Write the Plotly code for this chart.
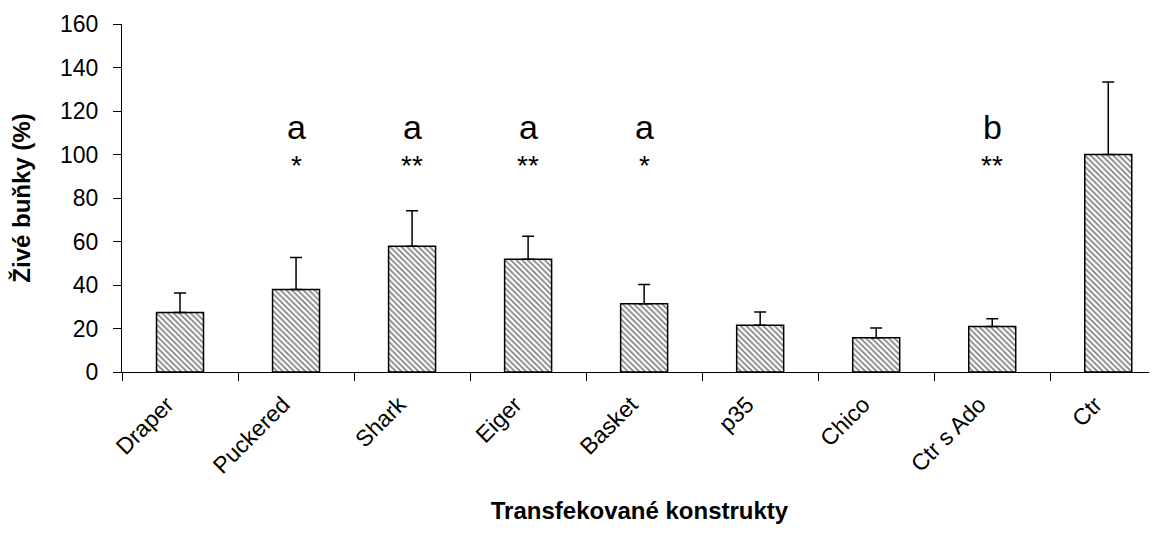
import plotly.graph_objects as go

categories = ["Draper", "Puckered", "Shark", "Eiger", "Basket", "p35", "Chico", "Ctr s Ado", "Ctr"]
values = [27.4, 37.9, 57.8, 51.8, 31.4, 21.5, 15.8, 20.9, 100.0]
errors = [8.9, 14.7, 16.3, 10.6, 8.8, 6.1, 4.4, 3.6, 33.3]
letters = ["", "a", "a", "a", "a", "", "", "b", ""]
stars = ["", "*", "**", "**", "*", "", "", "**", ""]

FONT = "Liberation Sans, Arial, sans-serif"

fig = go.Figure()
fig.add_trace(go.Bar(
    x=categories, y=values,
    marker=dict(color="white",
                line=dict(color="black", width=1.5),
                pattern=dict(shape="\\", fgcolor="black", bgcolor="white", size=4, solidity=0.42)),
    error_y=dict(type="data", array=errors, arrayminus=[0]*len(errors), symmetric=False,
                 color="black", thickness=1.5, width=6),
    width=0.405,
))

for c, l, s in zip(categories, letters, stars):
    if l:
        fig.add_annotation(x=c, y=112.5, text=l, showarrow=False,
                           font=dict(family=FONT, size=34, color="black"))
    if s:
        fig.add_annotation(x=c, y=95, text=s, showarrow=False,
                           font=dict(family=FONT, size=28, color="black"))

fig.update_layout(
    width=1149, height=525,
    margin=dict(l=114, r=0, t=16, b=161),
    plot_bgcolor="white", paper_bgcolor="white",
    showlegend=False,
    font=dict(family=FONT, color="black", size=23),
    xaxis=dict(
        range=[-0.5, 8.42], tickangle=-45, tickson="boundaries", automargin=False,
        ticks="outside", ticklen=8, tickcolor="black", tickwidth=1,
        showline=True, linecolor="black", linewidth=1, showgrid=False,
        ticklabelstandoff=9, ticklabelshift=-13,
        tickfont=dict(family=FONT, size=23, color="black"),
        title=dict(text="<b>Transfekované konstrukty</b>", font=dict(family=FONT, size=24), standoff=24),
    ),
    yaxis=dict(
        range=[0, 160], dtick=20, ticks="outside", ticklen=8, tickcolor="black", automargin=False,
        showline=True, linecolor="black", linewidth=1, showgrid=False, zeroline=False,
        ticklabelstandoff=10,
        tickfont=dict(family=FONT, size=23, color="black"),
        title=dict(text="<b>Živé buňky (%)</b>", font=dict(family=FONT, size=24), standoff=26),
    ),
)

fig.write_html("out.html")
